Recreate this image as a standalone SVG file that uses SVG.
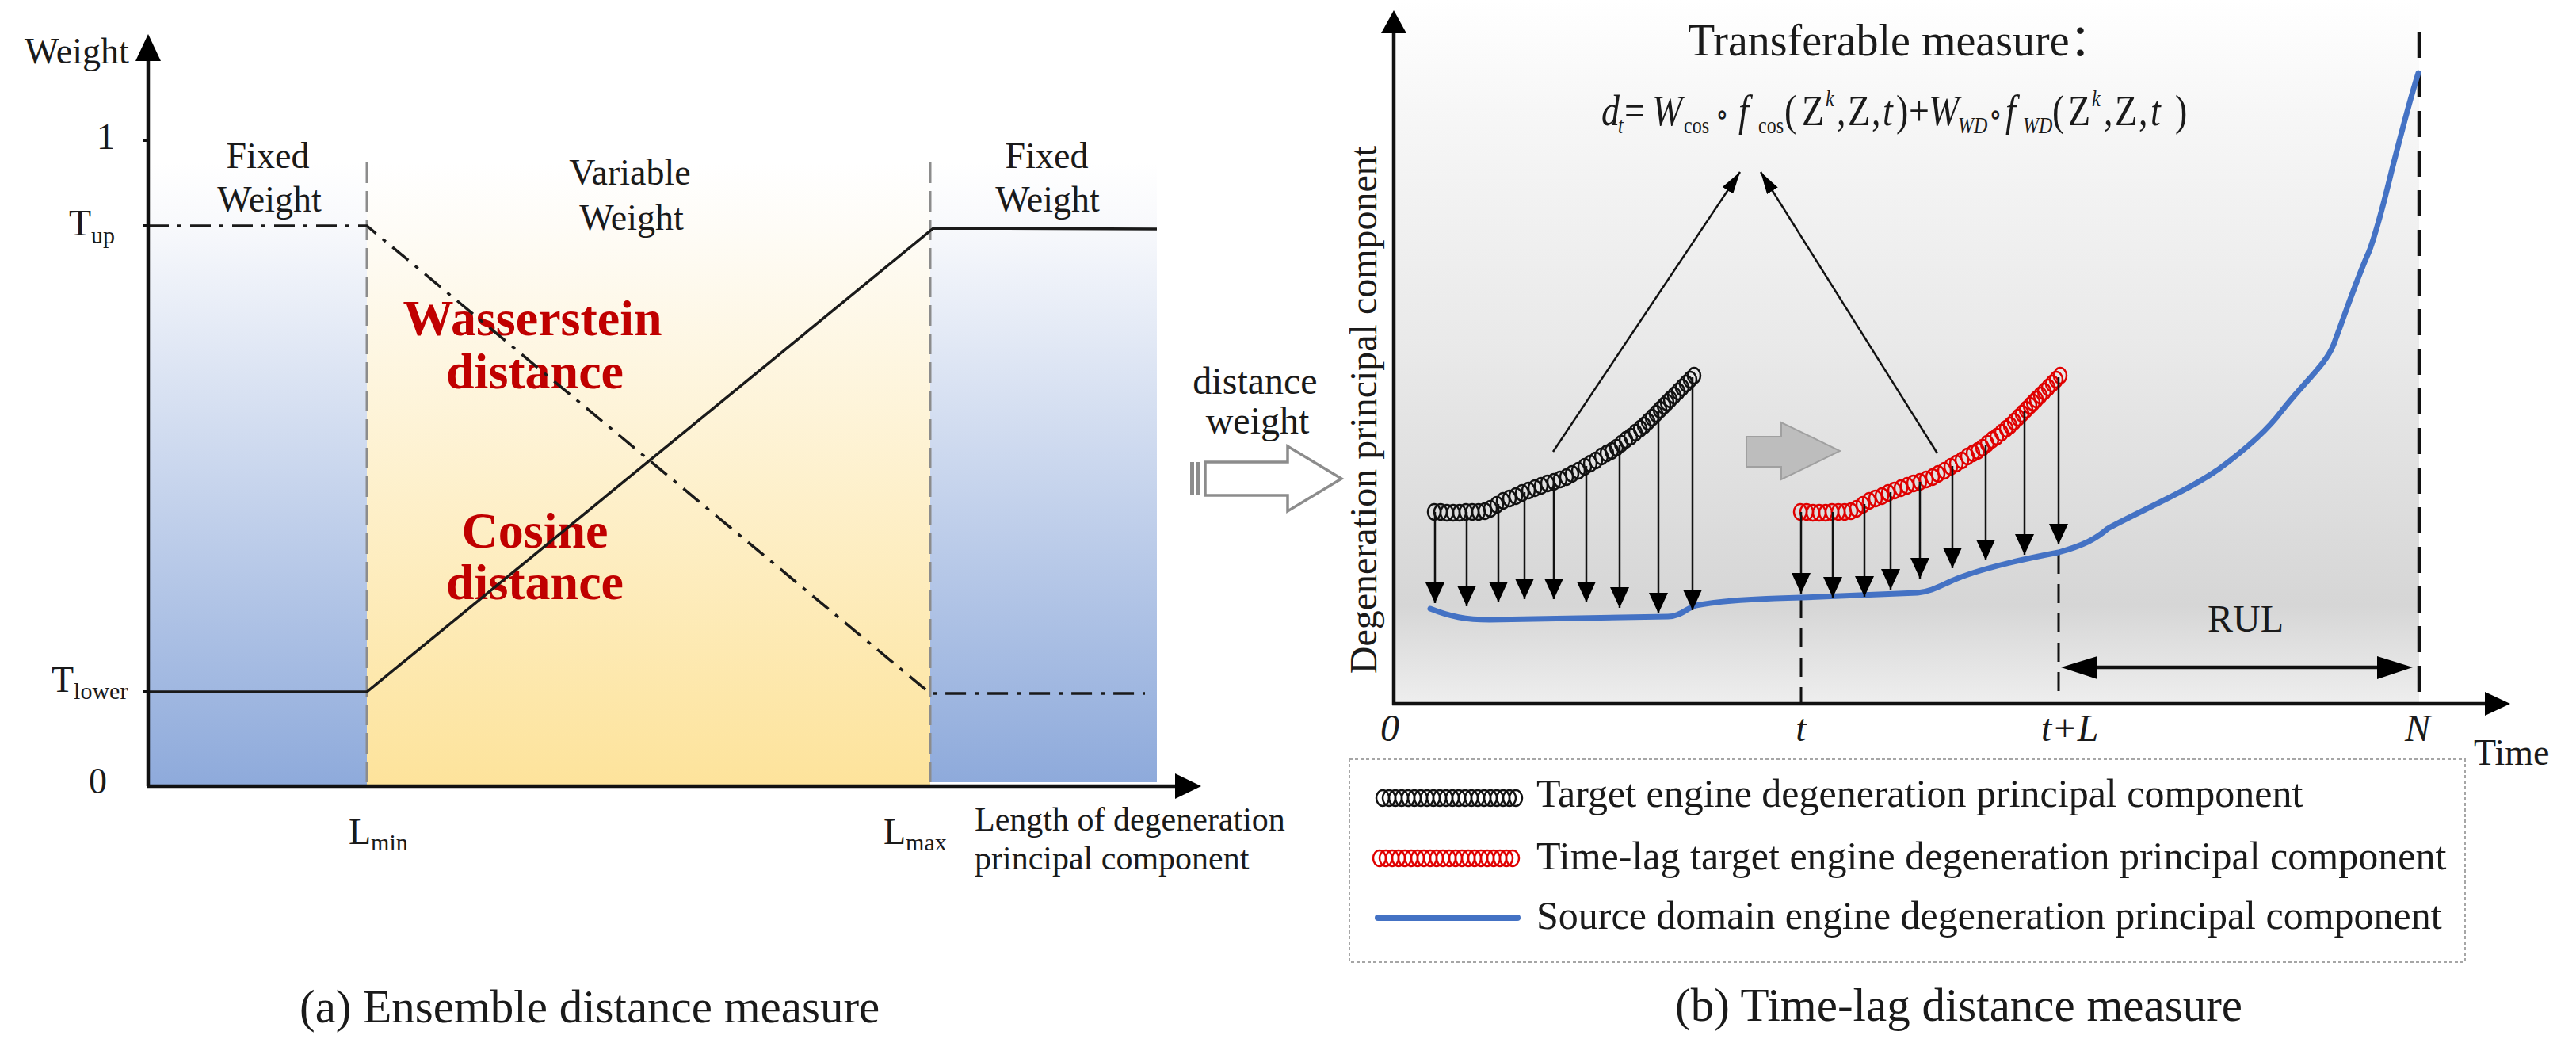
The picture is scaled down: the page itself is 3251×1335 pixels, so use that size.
<svg xmlns="http://www.w3.org/2000/svg" width="3251" height="1335" viewBox="0 0 3251 1335">
<style>
text{font-family:"Liberation Serif","Times New Roman",serif;fill:#1a1a1a}
.cjk{font-family:"Liberation Serif","Noto Sans CJK SC",serif}
.lbl{font-size:46px}
.red{font-size:64px;font-weight:bold;fill:#c00000;text-anchor:middle}
.it{font-style:italic}
.cap{font-size:59px}
.leg{font-size:50px}
.gdash{stroke:#8c8c8c;stroke-width:3;stroke-dasharray:26 10;fill:none}
.dd{stroke:#1a1a1a;stroke-width:3.5;stroke-dasharray:26 11 5 11;fill:none}
.sol{stroke:#1a1a1a;stroke-width:3.5;fill:none}
.axis{stroke:#111;stroke-width:4.5;fill:none}
.dn{stroke:#111;stroke-width:2.5;fill:none;marker-end:url(#ah)}
.ser{fill:none;stroke:none}
.blk{marker-start:url(#cb);marker-mid:url(#cb);marker-end:url(#cb)}
.rd{marker-start:url(#cr);marker-mid:url(#cr);marker-end:url(#cr)}
.blue{fill:none;stroke:#4472c4;stroke-width:7;stroke-linecap:round;stroke-linejoin:round}
.vd{stroke:#111;stroke-width:3;stroke-dasharray:24 13;fill:none}
</style>
<defs>
<linearGradient id="gBlue" x1="0" y1="0" x2="0" y2="1"><stop offset="0" stop-color="#ffffff"/><stop offset="0.1" stop-color="#f8f9fc"/><stop offset="1" stop-color="#8eaadb"/></linearGradient>
<linearGradient id="gYel" x1="0" y1="0" x2="0" y2="1"><stop offset="0" stop-color="#ffffff"/><stop offset="0.1" stop-color="#fefcf7"/><stop offset="1" stop-color="#fde39b"/></linearGradient>
<linearGradient id="gGray" x1="0" y1="0" x2="0" y2="1"><stop offset="0" stop-color="#ffffff"/><stop offset="0.15" stop-color="#f7f7f7"/><stop offset="0.5" stop-color="#e9e9e9"/><stop offset="0.86" stop-color="#d6d6d6"/><stop offset="1" stop-color="#eeeeee"/></linearGradient>
<marker id="cb" markerUnits="userSpaceOnUse" markerWidth="24" markerHeight="28" viewBox="-12 -14 24 28" refX="0" refY="0" overflow="visible"><ellipse rx="8" ry="10" fill="none" stroke="#111" stroke-width="2.5"/></marker>
<marker id="cr" markerUnits="userSpaceOnUse" markerWidth="24" markerHeight="28" viewBox="-12 -14 24 28" refX="0" refY="0" overflow="visible"><ellipse rx="8" ry="10" fill="none" stroke="#e00000" stroke-width="2.5"/></marker>
<marker id="ah" markerUnits="userSpaceOnUse" markerWidth="26" markerHeight="24" viewBox="0 0 26 24" refX="26" refY="12" orient="auto"><path d="M0,0 L26,12 L0,24 Z" fill="#000"/></marker>
<marker id="ah2" markerUnits="userSpaceOnUse" markerWidth="28" markerHeight="16" viewBox="0 0 28 16" refX="28" refY="8" orient="auto"><path d="M0,0 L28,8 L0,16 Z" fill="#000"/></marker>
</defs>
<rect width="3251" height="1335" fill="#ffffff"/>

<!-- ===== Panel (a) ===== -->
<g id="panel-a">
  <g id="a-regions">
    <rect x="187" y="205" width="276" height="787" fill="url(#gBlue)"/>
    <rect x="463" y="205" width="711" height="787" fill="url(#gYel)"/>
    <rect x="1174" y="205" width="286" height="782" fill="url(#gBlue)"/>
  </g>
  <g id="a-region-labels" class="lbl" text-anchor="middle">
    <text x="338" y="212">Fixed</text>
    <text x="340" y="267">Weight</text>
    <text x="795" y="233">Variable</text>
    <text x="797" y="290">Weight</text>
    <text x="1321" y="212">Fixed</text>
    <text x="1322" y="267">Weight</text>
  </g>
  <g id="a-distance-labels">
    <text class="red" x="672" y="423">Wasserstein</text>
    <text class="red" x="675" y="490">distance</text>
    <text class="red" x="675" y="691">Cosine</text>
    <text class="red" x="675" y="756">distance</text>
  </g>
  <g id="a-boundaries">
    <line class="gdash" x1="463" y1="205" x2="463" y2="992"/>
    <line class="gdash" x1="1174" y1="205" x2="1174" y2="992"/>
  </g>
  <g id="a-curves">
    <polyline class="dd" points="187,285 463,285 1174,875 1445,875"/>
    <polyline class="sol" points="187,873 463,873 1178,288 1460,289"/>
  </g>
  <g id="a-axes">
    <line class="axis" x1="187" y1="992" x2="187" y2="70"/>
    <polygon points="171,77 187,43 203,77" fill="#000"/>
    <line class="axis" x1="185" y1="992" x2="1490" y2="992"/>
    <polygon points="1483,976 1516,992 1483,1008" fill="#000"/>
    <line x1="181" y1="177" x2="187" y2="177" stroke="#111" stroke-width="4"/>
    <line x1="181" y1="285" x2="187" y2="285" stroke="#111" stroke-width="4"/>
    <line x1="181" y1="873" x2="187" y2="873" stroke="#111" stroke-width="4"/>
  </g>
  <g id="a-axis-labels" class="lbl">
    <text x="31" y="80">Weight</text>
    <text x="122" y="188">1</text>
    <text x="87" y="297">T<tspan font-size="30" dy="10">up</tspan></text>
    <text x="65" y="873">T<tspan font-size="30" dy="9">lower</tspan></text>
    <text x="112" y="1001">0</text>
    <text x="440" y="1065">L<tspan font-size="30" dy="8">min</tspan></text>
    <text x="1115" y="1065">L<tspan font-size="30" dy="8">max</tspan></text>
    <text x="1230" y="1048" font-size="42">Length of degeneration</text>
    <text x="1230" y="1097" font-size="42">principal component</text>
  </g>
  <text class="cap" x="378" y="1290">(a) Ensemble  distance measure</text>
</g>

<!-- ===== middle arrow ===== -->
<g id="distance-weight-arrow">
  <rect x="1502" y="583" width="5" height="42" fill="#8c8c8c"/>
  <rect x="1510" y="583" width="4" height="42" fill="#8c8c8c"/>
  <path d="M1521,583 L1625,583 L1625,563 L1693,604 L1625,645 L1625,625 L1521,625 Z" fill="#ffffff" stroke="#8c8c8c" stroke-width="3.5" stroke-linejoin="miter"/>
  <text x="1584" y="497" font-size="48" text-anchor="middle">distance</text>
  <text x="1587" y="547" font-size="48" text-anchor="middle">weight</text>
</g>

<!-- ===== Panel (b) ===== -->
<g id="panel-b">
  <rect id="b-background" x="1759" y="0" width="1294" height="888" fill="url(#gGray)"/>
  <g id="b-title">
    <text class="cjk" x="2130" y="70" font-size="56">Transferable measure：</text>
    <g transform="translate(0,158) scale(1,1.2)">
      <text y="0" font-size="46">
        <tspan x="2021" class="it">d</tspan><tspan x="2042" dy="8" font-size="24" class="it">t</tspan><tspan x="2050" dy="-8">=</tspan><tspan x="2085" class="it">W</tspan><tspan x="2125" dy="8" font-size="24">cos</tspan><tspan x="2165" dy="-8" font-size="34" font-family="'DejaVu Serif',serif">∘</tspan><tspan x="2194" class="it">f</tspan><tspan x="2219" dy="8" font-size="24">cos</tspan><tspan x="2252" dy="-8">(</tspan><tspan x="2274">Z</tspan><tspan x="2304" dy="-20" font-size="24" class="it">k</tspan><tspan x="2318" dy="20">,</tspan><tspan x="2332">Z</tspan><tspan x="2362">,</tspan><tspan x="2376" class="it">t</tspan><tspan x="2393">)</tspan><tspan x="2409">+</tspan><tspan x="2434" class="it">W</tspan><tspan x="2471" dy="8" font-size="24" class="it">WD</tspan><tspan x="2510" dy="-8" font-size="34" font-family="'DejaVu Serif',serif">∘</tspan><tspan x="2531" class="it">f</tspan><tspan x="2553" dy="8" font-size="24" class="it">WD</tspan><tspan x="2590" dy="-8">(</tspan><tspan x="2610">Z</tspan><tspan x="2640" dy="-20" font-size="24" class="it">k</tspan><tspan x="2655" dy="20">,</tspan><tspan x="2669">Z</tspan><tspan x="2699">,</tspan><tspan x="2714" class="it">t</tspan><tspan x="2745">)</tspan>
      </text>
    </g>
  </g>
  <g id="b-converge">
    <line x1="1960" y1="570" x2="2196" y2="217" stroke="#111" stroke-width="2.5" marker-end="url(#ah2)"/>
    <line x1="2445" y1="572" x2="2222" y2="217" stroke="#111" stroke-width="2.5" marker-end="url(#ah2)"/>
  </g>
  <polygon id="b-shift-arrow" points="2204,551 2248,551 2248,533 2322,569 2248,605 2248,589 2204,589" fill="#bdbdbd" stroke="#a0a0a0" stroke-width="2"/>
  <g id="b-verticals">
    <line class="vd" x1="2273" y1="756" x2="2273" y2="888"/>
    <line class="vd" x1="2598" y1="700" x2="2598" y2="876"/>
    <line x1="3053" y1="40" x2="3053" y2="876" stroke="#111" stroke-width="4.5" stroke-dasharray="33 17"/>
  </g>
  <path id="b-source" class="blue" d="M1805,768 C1830,778 1850,782 1880,782 L2105,778 C2120,778 2128,768 2140,764 C2170,758 2230,755 2273,754 L2420,748 C2440,746 2450,738 2470,730 C2500,718 2540,708 2598,697 C2630,688 2645,680 2660,667 C2700,645 2760,620 2800,592 C2830,570 2860,545 2880,518 C2910,480 2935,460 2945,435 C2960,395 2975,350 2990,317 C3000,290 3010,250 3018,217 C3030,170 3040,130 3052,92"/>
  <g id="b-target">
    <polyline class="ser blk" points="1810,646 1818,646 1826,647 1834,647 1842,647 1850,646 1858,646 1866,646 1874,645 1881,642 1889,637 1897,632 1905,629 1913,626 1921,622 1929,619 1937,616 1945,613 1953,610 1961,608 1969,605 1977,602 1984,598 1992,594 2000,589 2007,585 2014,581 2021,576 2028,572 2034,569 2040,565 2046,560 2052,555 2058,551 2064,546 2070,541 2075,537 2080,532 2085,527 2090,522 2095,517 2100,512 2104,508 2108,504 2113,499 2118,494 2123,489 2128,484 2133,479 2138,474"/>
  </g>
  <g id="b-timelag">
    <polyline class="ser rd" transform="translate(462,0)" points="1810,646 1818,646 1826,647 1834,647 1842,647 1850,646 1858,646 1866,646 1874,645 1881,642 1889,637 1897,632 1905,629 1913,626 1921,622 1929,619 1937,616 1945,613 1953,610 1961,608 1969,605 1977,602 1984,598 1992,594 2000,589 2007,585 2014,581 2021,576 2028,572 2034,569 2040,565 2046,560 2052,555 2058,551 2064,546 2070,541 2075,537 2080,532 2085,527 2090,522 2095,517 2100,512 2104,508 2108,504 2113,499 2118,494 2123,489 2128,484 2133,479 2138,474"/>
  </g>
  <g id="connectors">
    <line class="dn" x1="1811" y1="646" x2="1811" y2="761"/>
    <line class="dn" x1="1851" y1="646" x2="1851" y2="765"/>
    <line class="dn" x1="1891" y1="636" x2="1891" y2="760"/>
    <line class="dn" x1="1924" y1="621" x2="1924" y2="756"/>
    <line class="dn" x1="1961" y1="608" x2="1961" y2="756"/>
    <line class="dn" x1="2002" y1="588" x2="2002" y2="760"/>
    <line class="dn" x1="2044" y1="562" x2="2044" y2="767"/>
    <line class="dn" x1="2093" y1="519" x2="2093" y2="774"/>
    <line class="dn" x1="2136" y1="476" x2="2136" y2="770"/>
    <line class="dn" x1="2273" y1="646" x2="2273" y2="749"/>
    <line class="dn" x1="2313" y1="646" x2="2313" y2="754"/>
    <line class="dn" x1="2353" y1="636" x2="2353" y2="753"/>
    <line class="dn" x1="2386" y1="621" x2="2386" y2="744"/>
    <line class="dn" x1="2423" y1="608" x2="2423" y2="730"/>
    <line class="dn" x1="2464" y1="588" x2="2464" y2="717"/>
    <line class="dn" x1="2506" y1="562" x2="2506" y2="707"/>
    <line class="dn" x1="2555" y1="519" x2="2555" y2="700"/>
    <line class="dn" x1="2598" y1="476" x2="2598" y2="687"/>
  </g>
  <g id="b-rul">
    <line x1="2640" y1="842" x2="3005" y2="842" stroke="#111" stroke-width="4.5"/>
    <polygon points="2601,842 2647,828 2647,857" fill="#000"/>
    <polygon points="3045,842 3000,828 3000,857" fill="#000"/>
    <text x="2834" y="797" font-size="48" text-anchor="middle">RUL</text>
  </g>
  <g id="b-axes">
    <line class="axis" x1="1759" y1="890" x2="1759" y2="36"/>
    <polygon points="1743,42 1759,13 1775,42" fill="#000"/>
    <line class="axis" x1="1757" y1="888" x2="3145" y2="888"/>
    <polygon points="3136,873 3168,888 3136,903" fill="#000"/>
  </g>
  <g id="b-axis-labels" font-size="48">
    <text x="1737" y="517" text-anchor="middle" transform="rotate(-90 1737 517)">Degeneration principal component</text>
    <text x="1742" y="935" class="it">0</text>
    <text x="2273" y="935" class="it" text-anchor="middle">t</text>
    <text x="2576" y="935" class="it">t+L</text>
    <text x="3035" y="935" class="it">N</text>
    <text x="3122" y="965" font-size="46">Time</text>
  </g>
  <g id="b-legend">
    <rect x="1703" y="958" width="1408" height="256" fill="none" stroke="#a6a6a6" stroke-width="2" stroke-dasharray="4 3"/>
    <polyline class="ser blk" points="1745,1007 1753,1007 1761,1007 1769,1007 1777,1007 1785,1007 1793,1007 1801,1007 1809,1007 1817,1007 1825,1007 1833,1007 1841,1007 1849,1007 1857,1007 1865,1007 1873,1007 1881,1007 1889,1007 1897,1007 1905,1007 1913,1007"/>
    <polyline class="ser rd" points="1741,1083 1749,1083 1757,1083 1765,1083 1773,1083 1781,1083 1789,1083 1797,1083 1805,1083 1813,1083 1821,1083 1829,1083 1837,1083 1845,1083 1853,1083 1861,1083 1869,1083 1877,1083 1885,1083 1893,1083 1901,1083 1909,1083"/>
    <line x1="1739" y1="1158" x2="1915" y2="1158" stroke="#4472c4" stroke-width="8" stroke-linecap="round"/>
    <text class="leg" x="1939" y="1018">Target engine degeneration principal component</text>
    <text class="leg" x="1939" y="1097">Time-lag target engine degeneration principal component</text>
    <text class="leg" x="1939" y="1172">Source domain engine degeneration principal component</text>
  </g>
  <text class="cap" x="2114" y="1288">(b) Time-lag distance measure</text>
</g>
</svg>
